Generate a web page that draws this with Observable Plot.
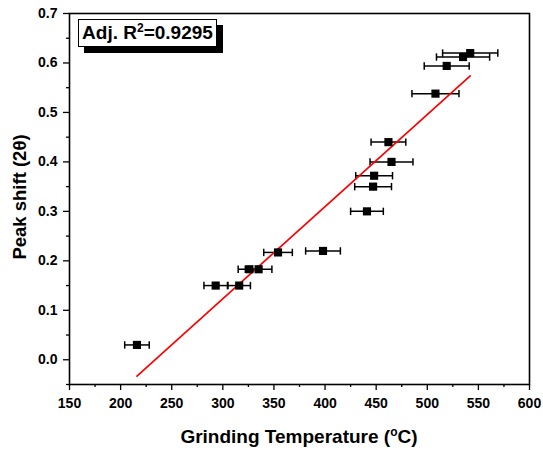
<!DOCTYPE html>
<html>
<head>
<meta charset="utf-8">
<script src="https://cdn.jsdelivr.net/npm/d3@7"></script>
<script src="https://cdn.jsdelivr.net/npm/@observablehq/plot@0.6"></script>
<style>
  html, body { margin: 0; padding: 0; background: white; }
  #wrap { position: relative; width: 543px; height: 451px; }
  #r2 {
    position: absolute; left: 78px; top: 19px; width: 139px; height: 28px;
    box-sizing: border-box; border: 1.5px solid #000; background: #fff;
    box-shadow: 6px 6px 0 #000;
    font-family: "Liberation Sans", Arial, sans-serif; font-weight: bold; font-size: 19px;
    line-height: 26px; text-align: center; color: #000; white-space: nowrap;
  }
  #r2 sup { font-size: 12px; line-height: 0; vertical-align: 7px; }
</style>
</head>
<body>
<div id="wrap"><div id="r2">Adj. R<sup>2</sup>=0.9295</div></div>
<script>
// Grinding temperature (°C), x error (± °C), peak shift (2θ)
const temps  = [216, 293, 316, 326, 335, 354, 398, 441, 447, 448, 465, 462, 508, 519, 535, 542];
const tempErr = [12, 11.5, 11, 11, 13, 14, 17, 16, 18, 18, 21, 17, 23, 22, 26, 27];
const shifts = [0.03, 0.15, 0.15, 0.183, 0.183, 0.217, 0.22, 0.30, 0.35, 0.372, 0.40, 0.44, 0.538, 0.594, 0.612, 0.62];

// Linear fit line end points
const fitX = [216, 542];
const fitY = [-0.033, 0.574];

// Ticks
const xMajor = [150, 200, 250, 300, 350, 400, 450, 500, 550, 600];
const xMinor = [175, 225, 275, 325, 375, 425, 475, 525, 575];
const yMajor = [0.0, 0.1, 0.2, 0.3, 0.4, 0.5, 0.6, 0.7];
const yMinor = [-0.05, 0.05, 0.15, 0.25, 0.35, 0.45, 0.55, 0.65];

const data = temps.map((t, i) => ({t, e: tempErr[i], s: shifts[i]}));
const caps = data.flatMap(d => [{x: d.t - d.e, y: d.s}, {x: d.t + d.e, y: d.s}]);
const fit = fitX.map((x, i) => ({x, y: fitY[i]}));

const vbar = {
  draw(ctx, size) {
    const h = Math.sqrt(size / Math.PI);
    ctx.moveTo(0, -h);
    ctx.lineTo(0, h);
  }
};

const chart = Plot.plot({
  width: 543,
  height: 451,
  marginLeft: 69,
  marginRight: 14,
  marginTop: 13,
  marginBottom: 67,
  x: {domain: [150, 600]},
  y: {domain: [-0.05, 0.7]},
  style: {fontFamily: "'Liberation Sans', Arial, sans-serif", fontSize: "14px", fontWeight: "bold", color: "black", background: "white"},
  marks: [
    Plot.axisX({ticks: xMajor, tickSize: 6, tickPadding: 8, tickFormat: d => String(d), label: null, strokeWidth: 1.3}),
    Plot.axisX({ticks: xMinor, tickSize: 3, tickFormat: () => "", label: null, strokeWidth: 1.3}),
    Plot.axisY({ticks: yMajor, tickSize: 6, tickPadding: 6, tickFormat: d3.format(".1f"), label: null, strokeWidth: 1.3}),
    Plot.axisY({ticks: yMinor, tickSize: 3, tickFormat: () => "", label: null, strokeWidth: 1.3}),
    Plot.frame({stroke: "black", strokeWidth: 1.6}),
    Plot.link(data, {x1: d => d.t - d.e, x2: d => d.t + d.e, y1: "s", y2: "s", stroke: "black", strokeWidth: 1.5}),
    Plot.dot(caps, {x: "x", y: "y", symbol: vbar, r: 3.7, fill: "none", stroke: "black", strokeWidth: 1.5}),
    Plot.line(fit, {x: "x", y: "y", stroke: "#ff0000", strokeWidth: 1.7}),
    Plot.dot(data, {x: "t", y: "s", symbol: "square", r: 4.6, fill: "black", stroke: "none"})
  ]
});

const svg = d3.select(chart);
const xt = svg.append("text")
  .attr("x", 299).attr("y", 443)
  .attr("text-anchor", "middle")
  .attr("font-size", "19px").attr("font-weight", "bold").attr("fill", "black");
xt.append("tspan").text("Grinding Temperature (");
xt.append("tspan").attr("font-size", "12px").attr("dy", "-7").text("o");
xt.append("tspan").attr("dy", "7").text("C)");

svg.append("text")
  .attr("transform", "translate(26,197) rotate(-90)")
  .attr("text-anchor", "middle")
  .attr("font-size", "18.5px").attr("font-weight", "bold").attr("fill", "black")
  .text("Peak shift (2θ)");

document.getElementById("wrap").prepend(chart);
</script>
</body>
</html>
